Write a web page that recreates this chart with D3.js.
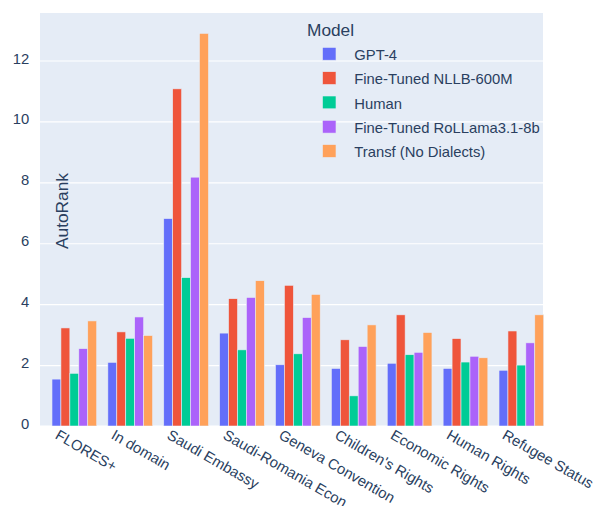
<!DOCTYPE html>
<html>
<head>
<meta charset="utf-8">
<script src="https://cdn.jsdelivr.net/npm/d3@7"></script>
<style>
  html, body { margin: 0; padding: 0; background: #fff; }
  svg { display: block; font-family: "Liberation Sans", Arial, sans-serif; }
</style>
</head>
<body>
<svg id="chart" width="595" height="506"></svg>
<script>
// Datasets (x categories)
const categories = ["FLORES+", "In domain", "Saudi Embassy", "Saudi-Romania Econ",
  "Geneva Convention", "Children's Rights", "Economic Rights", "Human Rights", "Refugee Status"];

// Models (legend order)
const models = ["GPT-4", "Fine-Tuned NLLB-600M", "Human", "Fine-Tuned RoLLama3.1-8b", "Transf (No Dialects)"];
const modelColors = ["#636efa", "#EF553B", "#00cc96", "#ab63fa", "#FFA15A"];

// AutoRank per model, one value per dataset
const gpt4      = [1.54, 2.09, 6.81, 3.05, 2.01, 1.89, 2.06, 1.89, 1.83];
const nllb      = [3.22, 3.09, 11.07, 4.18, 4.62, 2.83, 3.65, 2.87, 3.12];
const human     = [1.73, 2.88, 4.87, 2.50, 2.37, 0.99, 2.34, 2.10, 2.00];
const rollama   = [2.54, 3.58, 8.17, 4.22, 3.56, 2.61, 2.42, 2.29, 2.73];
const transf    = [3.45, 2.97, 12.89, 4.77, 4.32, 3.32, 3.07, 2.24, 3.65];
const seriesValues = [gpt4, nllb, human, rollama, transf];

const yTicks = [0, 2, 4, 6, 8, 10, 12];

const textColor = "#2a3f5f";
const svg = d3.select("#chart");

const plot = { left: 40, right: 543, top: 13, bottom: 426 };

const y = d3.scaleLinear().domain([0, 13.56]).range([plot.bottom, plot.top]);
const x = d3.scaleBand().domain(categories).range([46.4, 549.3]).padding(0);
const xInner = d3.scaleBand().domain(models)
  .range([x.bandwidth() * 0.1, x.bandwidth() * 0.9]).padding(0);

// Plot background
svg.append("rect")
  .attr("x", plot.left).attr("y", plot.top)
  .attr("width", plot.right - plot.left).attr("height", plot.bottom - plot.top)
  .attr("fill", "#E5ECF6");

// Y axis with gridlines
const yAxis = svg.append("g")
  .attr("transform", `translate(${plot.left},0)`)
  .call(d3.axisLeft(y).tickValues(yTicks).tickSize(-(plot.right - plot.left)).tickPadding(10.7));
yAxis.select(".domain").remove();
yAxis.selectAll(".tick line")
  .attr("stroke", "#fff")
  .attr("stroke-width", d => d === 0 ? 2 : 1.2);
yAxis.selectAll(".tick text")
  .attr("fill", textColor)
  .attr("font-size", 14.8)
  .attr("font-family", "Liberation Sans, Arial, sans-serif")
  .attr("dy", "0.17em");

// Bars, clipped to the plot area
svg.append("clipPath").attr("id", "plotClip")
  .append("rect")
  .attr("x", plot.left).attr("y", plot.top)
  .attr("width", plot.right - plot.left + 1).attr("height", plot.bottom - plot.top);

const barsG = svg.append("g").attr("clip-path", "url(#plotClip)");
models.forEach((m, mi) => {
  barsG.append("g")
    .selectAll("rect")
    .data(seriesValues[mi].map((v, i) => ({ cat: categories[i], v })))
    .join("rect")
    .attr("x", d => x(d.cat) + xInner(m))
    .attr("width", xInner.bandwidth())
    .attr("y", d => y(d.v))
    .attr("height", d => y(0) - y(d.v))
    .attr("fill", modelColors[mi])
    .attr("stroke", "#E5ECF6")
    .attr("stroke-width", 0.6);
});

// X axis labels, rotated
const xAxis = svg.append("g")
  .attr("transform", `translate(0,${plot.bottom})`)
  .call(d3.axisBottom(x).tickSize(0).tickPadding(0));
xAxis.select(".domain").remove();
xAxis.selectAll(".tick text")
  .attr("fill", textColor)
  .attr("font-size", 14.8)
  .attr("font-family", "Liberation Sans, Arial, sans-serif")
  .attr("text-anchor", "start")
  .attr("dy", null)
  .attr("y", null)
  .attr("transform", "translate(-20,12) rotate(30)");

// Y axis title
svg.append("text")
  .attr("transform", "translate(68,211) rotate(-90)")
  .attr("text-anchor", "middle")
  .attr("fill", textColor)
  .attr("font-size", 17.3)
  .text("AutoRank");

// Legend
const legend = svg.append("g");
legend.append("text")
  .attr("x", 307).attr("y", 36)
  .attr("fill", textColor)
  .attr("font-size", 17.3)
  .text("Model");
models.forEach((m, i) => {
  const base = 60 + i * 24.3;
  legend.append("rect")
    .attr("x", 322.5).attr("y", base - 12.6)
    .attr("width", 13.5).attr("height", 12.8)
    .attr("fill", modelColors[i])
    .attr("stroke", "#E5ECF6").attr("stroke-width", 0.6);
  legend.append("text")
    .attr("x", 354.3).attr("y", base)
    .attr("fill", textColor)
    .attr("font-size", 14.8)
    .text(m);
});
</script>
</body>
</html>
